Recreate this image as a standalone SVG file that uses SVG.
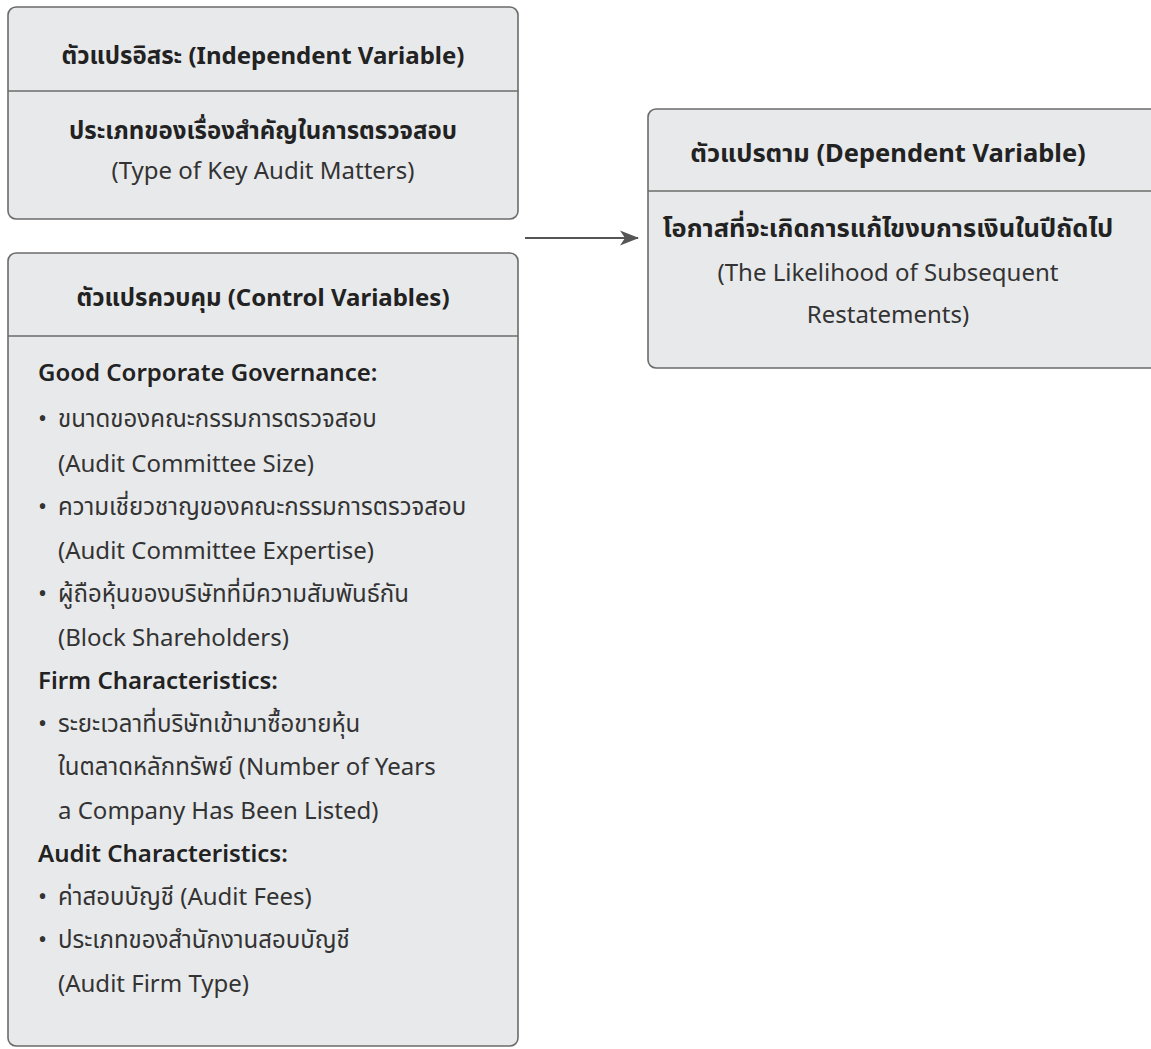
<svg xmlns="http://www.w3.org/2000/svg" width="1151" height="1049" viewBox="0 0 1151 1049">
<defs>
<style>
.box{fill:#e8e9eb;stroke:#6b6b6b;stroke-width:1.6}
.div{stroke:#6b6b6b;stroke-width:1.6}
text{font-family:"Noto Sans","Noto Sans Thai","Open Sans",sans-serif;font-size:24px;fill:#333}
.t{font-weight:bold;fill:#222;text-anchor:middle}
.c{text-anchor:middle}
.h{font-weight:600;fill:#222}
.w{font-size:25.5px}
</style>
<marker id="ah" viewBox="0 0 20 20" refX="18" refY="10" markerWidth="20" markerHeight="20" markerUnits="userSpaceOnUse" orient="auto">
<path d="M0,2.5 L19,10 L0,17.5 L5,10 Z" fill="#555"/>
</marker>
</defs>
<rect width="1151" height="1049" fill="#fff"/>
<g id="connectors">
<line x1="525" y1="238" x2="638" y2="238" stroke="#555" stroke-width="2" marker-end="url(#ah)"/>
</g>
<g id="independent">
<rect class="box" x="8" y="7" width="510" height="212" rx="8"/>
<line class="div" x1="8" y1="91" x2="518" y2="91"/>
<text class="t" x="263" y="64">ตัวแปรอิสระ (Independent Variable)</text>
<text class="t" x="263" y="139">ประเภทของเรื่องสำคัญในการตรวจสอบ</text>
<text class="c" x="263" y="179">(Type of Key Audit Matters)</text>
</g>
<g id="control">
<rect class="box" x="8" y="253" width="510" height="793" rx="8"/>
<line class="div" x1="8" y1="336" x2="518" y2="336"/>
<text class="t" x="263" y="306">ตัวแปรควบคุม (Control Variables)</text>
<text class="h" x="38" y="381">Good Corporate Governance:</text>
<text x="38" y="427">•</text><text x="58" y="427">ขนาดของคณะกรรมการตรวจสอบ</text>
<text x="58" y="472">(Audit Committee Size)</text>
<text x="38" y="515">•</text><text x="58" y="515">ความเชี่ยวชาญของคณะกรรมการตรวจสอบ</text>
<text x="58" y="559">(Audit Committee Expertise)</text>
<text x="38" y="602">•</text><text x="58" y="602">ผู้ถือหุ้นของบริษัทที่มีความสัมพันธ์กัน</text>
<text x="58" y="646">(Block Shareholders)</text>
<text class="h" x="38" y="689">Firm Characteristics:</text>
<text x="38" y="732">•</text><text x="58" y="732">ระยะเวลาที่บริษัทเข้ามาซื้อขายหุ้น</text>
<text x="58" y="775">ในตลาดหลักทรัพย์ (Number of Years</text>
<text x="58" y="819">a Company Has Been Listed)</text>
<text class="h" x="38" y="862">Audit Characteristics:</text>
<text x="38" y="905">•</text><text x="58" y="905">ค่าสอบบัญชี (Audit Fees)</text>
<text x="38" y="948">•</text><text x="58" y="948">ประเภทของสำนักงานสอบบัญชี</text>
<text x="58" y="992">(Audit Firm Type)</text>
</g>
<g id="dependent">
<rect class="box" x="648" y="109" width="520" height="259" rx="8"/>
<line class="div" x1="648" y1="191" x2="1168" y2="191"/>
<text class="t w" x="888" y="162">ตัวแปรตาม (Dependent Variable)</text>
<text class="t w" x="888" y="237">โอกาสที่จะเกิดการแก้ไขงบการเงินในปีถัดไป</text>
<text class="c" x="888" y="281">(The Likelihood of Subsequent</text>
<text class="c" x="888" y="323">Restatements)</text>
</g>
</svg>
